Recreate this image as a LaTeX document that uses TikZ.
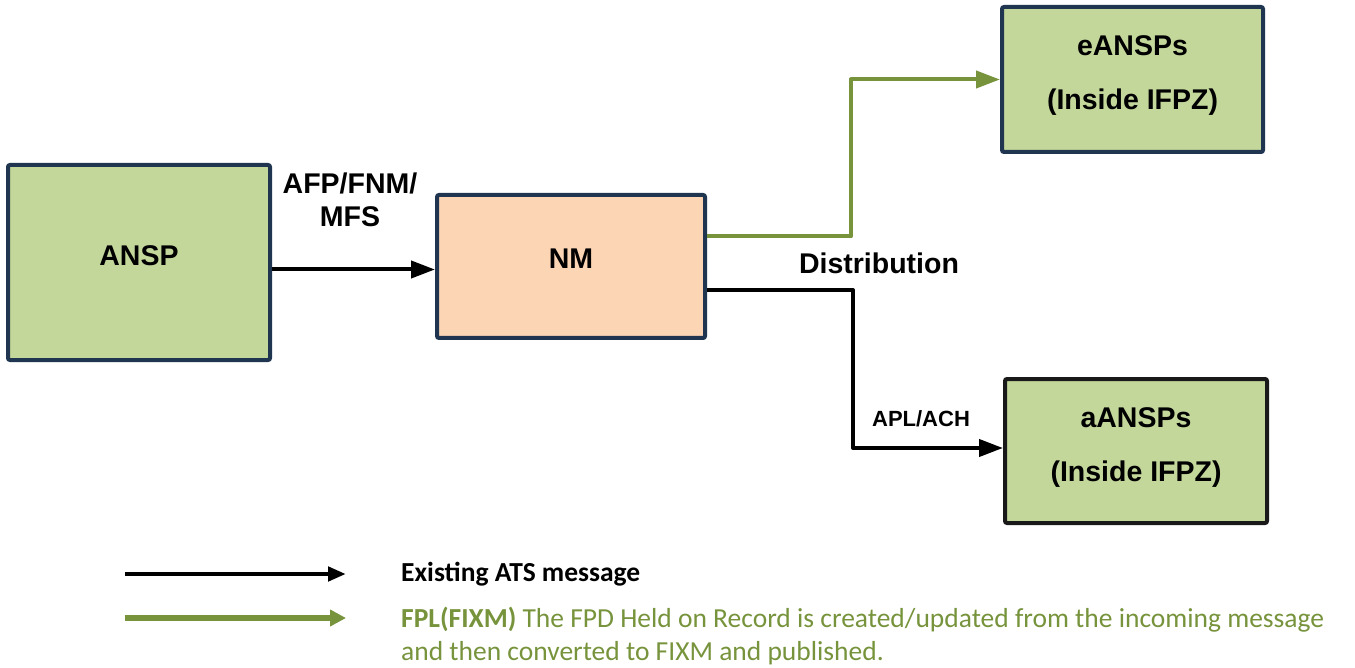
\documentclass[tikz,border=0pt]{standalone}
\usepackage{fontspec}
\setmainfont{Liberation Sans}
\newfontfamily\legendfont{Carlito}
\usetikzlibrary{arrows.meta,calc}
\definecolor{boxgreen}{HTML}{C4D79B}
\definecolor{boxpeach}{HTML}{FCD5B4}
\definecolor{navy}{HTML}{1F3550}
\definecolor{olive}{HTML}{77933C}
% extra depth below a box label, lifts the text inside its box
\newcommand{\lift}[1]{\rule[-#1]{0pt}{0pt}}
\begin{document}
\begin{tikzpicture}[x=1pt,y=-1pt,
  box/.style={draw=navy,line width=4pt,rounded corners=2pt,align=center,
    font=\fontsize{28.5}{54}\selectfont\bfseries,inner sep=0pt},
  lbl/.style={font=\fontsize{28.5}{33}\selectfont\bfseries,align=center,inner sep=0pt},
  msg/.style={line width=4pt,line join=round,-{Triangle[length=24pt,width=17pt]}},
  fixm/.style={msg,draw=olive,color=olive},
  legblack/.style={line width=4.5pt,-{Triangle[length=18pt,width=14pt]}},
  leggreen/.style={line width=6pt,draw=olive,color=olive,-{Triangle[length=16pt,width=16pt]}}]
\useasboundingbox (0,0) rectangle (1355,668);

% message flow boxes
\node[box,fill=boxgreen,minimum width=262pt,minimum height=195pt] (ansp) at (139,262.5) {ANSP\lift{14pt}};
\node[box,fill=boxpeach,minimum width=268pt,minimum height=143pt] (nm) at (571,266.5) {NM\lift{16pt}};
\node[box,fill=boxgreen,minimum width=261pt,minimum height=145pt] (eansp) at (1132.5,79.5) {eANSPs\\(Inside IFPZ)\lift{14pt}};
\node[box,fill=boxgreen,draw=black!90,minimum width=262pt,minimum height=144pt] (aansp) at (1136,451) {aANSPs\\(Inside IFPZ)\lift{12pt}};

% connectors
\draw[msg] ([yshift=-7pt]ansp.east) -- ([yshift=-7pt]ansp.east -| nm.west);
\coordinate (gturn) at (851,79.5);
\draw[fixm] ([yshift=30pt]nm.east) -| (gturn) -- (eansp.west);
\coordinate (bturn) at (853,448);
\draw[msg] ([yshift=-23.5pt]nm.east) -| (bturn) -- (bturn -| aansp.west);

% connector labels
\node[lbl] (afp) at (350,200) {AFP/FNM/\\MFS};
\node[lbl] (dist) at (879,263) {Distribution};
\node[lbl,font=\fontsize{22}{26}\selectfont\bfseries] (apl) at (921,419) {APL/ACH};

% legend
\coordinate (k1s) at (125,574);
\coordinate (k1e) at (346,574);
\coordinate (k2s) at (125,618);
\coordinate (k2e) at (346,618);
\draw[legblack] (k1s) -- (k1e);
\draw[leggreen] (k2s) -- (k2e);
\node[anchor=west,inner sep=0pt,font=\legendfont\fontsize{27.5}{33}\selectfont\bfseries] (k1t) at (401,574) {Existing ATS message};
\node[anchor=west,inner sep=0pt,align=left,text=olive,font=\legendfont\fontsize{27.5}{33}\selectfont] (k2t) at (401,636)
  {\textbf{FPL(FIXM)} The FPD Held on Record is created/updated from the incoming message\\and then converted to FIXM and published.};
\end{tikzpicture}
\end{document}
